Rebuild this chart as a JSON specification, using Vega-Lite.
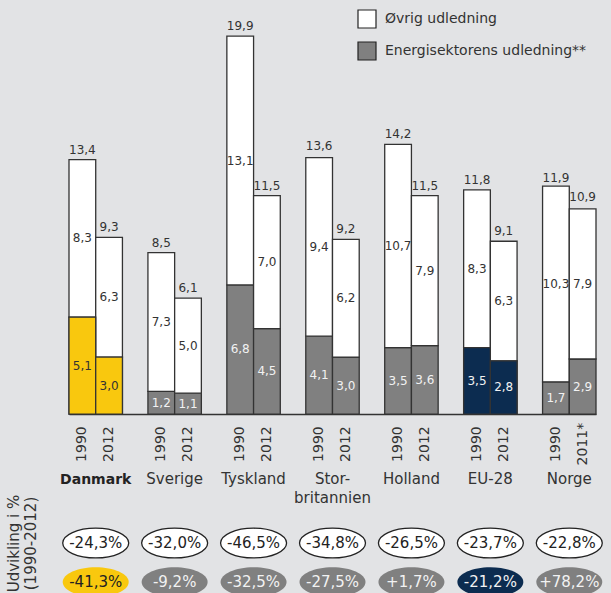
{
  "$schema": "https://vega.github.io/schema/vega-lite/v6.json",
  "width": 611,
  "height": 593,
  "autosize": {"type": "none"},
  "padding": 0,
  "background": "#e2e3e5",
  "config": {
    "view": {"stroke": null},
    "font": "DejaVu Sans",
    "text": {"font": "DejaVu Sans"},
    "locale": {"number": {"decimal": ",", "thousands": ".", "grouping": [3], "currency": ["", " kr."], "minus": "-", "percent": "%"}}
  },
  "datasets": {
    "udledning": [
      {"land": "Danmark", "periode": "start", "segment": "Energisektorens udledning**", "kategori": "Energi Danmark", "vaerdi": 5.1},
      {"land": "Danmark", "periode": "start", "segment": "Øvrig udledning", "kategori": "Øvrig udledning", "vaerdi": 8.3},
      {"land": "Danmark", "periode": "slut", "segment": "Energisektorens udledning**", "kategori": "Energi Danmark", "vaerdi": 3.0},
      {"land": "Danmark", "periode": "slut", "segment": "Øvrig udledning", "kategori": "Øvrig udledning", "vaerdi": 6.3},
      {"land": "Sverige", "periode": "start", "segment": "Energisektorens udledning**", "kategori": "Energi øvrige", "vaerdi": 1.2},
      {"land": "Sverige", "periode": "start", "segment": "Øvrig udledning", "kategori": "Øvrig udledning", "vaerdi": 7.3},
      {"land": "Sverige", "periode": "slut", "segment": "Energisektorens udledning**", "kategori": "Energi øvrige", "vaerdi": 1.1},
      {"land": "Sverige", "periode": "slut", "segment": "Øvrig udledning", "kategori": "Øvrig udledning", "vaerdi": 5.0},
      {"land": "Tyskland", "periode": "start", "segment": "Energisektorens udledning**", "kategori": "Energi øvrige", "vaerdi": 6.8},
      {"land": "Tyskland", "periode": "start", "segment": "Øvrig udledning", "kategori": "Øvrig udledning", "vaerdi": 13.1},
      {"land": "Tyskland", "periode": "slut", "segment": "Energisektorens udledning**", "kategori": "Energi øvrige", "vaerdi": 4.5},
      {"land": "Tyskland", "periode": "slut", "segment": "Øvrig udledning", "kategori": "Øvrig udledning", "vaerdi": 7.0},
      {"land": "Storbritannien", "periode": "start", "segment": "Energisektorens udledning**", "kategori": "Energi øvrige", "vaerdi": 4.1},
      {"land": "Storbritannien", "periode": "start", "segment": "Øvrig udledning", "kategori": "Øvrig udledning", "vaerdi": 9.4},
      {"land": "Storbritannien", "periode": "slut", "segment": "Energisektorens udledning**", "kategori": "Energi øvrige", "vaerdi": 3.0},
      {"land": "Storbritannien", "periode": "slut", "segment": "Øvrig udledning", "kategori": "Øvrig udledning", "vaerdi": 6.2},
      {"land": "Holland", "periode": "start", "segment": "Energisektorens udledning**", "kategori": "Energi øvrige", "vaerdi": 3.5},
      {"land": "Holland", "periode": "start", "segment": "Øvrig udledning", "kategori": "Øvrig udledning", "vaerdi": 10.7},
      {"land": "Holland", "periode": "slut", "segment": "Energisektorens udledning**", "kategori": "Energi øvrige", "vaerdi": 3.6},
      {"land": "Holland", "periode": "slut", "segment": "Øvrig udledning", "kategori": "Øvrig udledning", "vaerdi": 7.9},
      {"land": "EU-28", "periode": "start", "segment": "Energisektorens udledning**", "kategori": "Energi EU-28", "vaerdi": 3.5},
      {"land": "EU-28", "periode": "start", "segment": "Øvrig udledning", "kategori": "Øvrig udledning", "vaerdi": 8.3},
      {"land": "EU-28", "periode": "slut", "segment": "Energisektorens udledning**", "kategori": "Energi EU-28", "vaerdi": 2.8},
      {"land": "EU-28", "periode": "slut", "segment": "Øvrig udledning", "kategori": "Øvrig udledning", "vaerdi": 6.3},
      {"land": "Norge", "periode": "start", "segment": "Energisektorens udledning**", "kategori": "Energi øvrige", "vaerdi": 1.7},
      {"land": "Norge", "periode": "start", "segment": "Øvrig udledning", "kategori": "Øvrig udledning", "vaerdi": 10.3},
      {"land": "Norge", "periode": "slut", "segment": "Energisektorens udledning**", "kategori": "Energi øvrige", "vaerdi": 2.9},
      {"land": "Norge", "periode": "slut", "segment": "Øvrig udledning", "kategori": "Øvrig udledning", "vaerdi": 7.9}
    ],
    "totaler": [
      {"land": "Danmark", "periode": "start", "aar": "1990", "total": 13.4},
      {"land": "Danmark", "periode": "slut", "aar": "2012", "total": 9.3},
      {"land": "Sverige", "periode": "start", "aar": "1990", "total": 8.5},
      {"land": "Sverige", "periode": "slut", "aar": "2012", "total": 6.1},
      {"land": "Tyskland", "periode": "start", "aar": "1990", "total": 19.9},
      {"land": "Tyskland", "periode": "slut", "aar": "2012", "total": 11.5},
      {"land": "Storbritannien", "periode": "start", "aar": "1990", "total": 13.6},
      {"land": "Storbritannien", "periode": "slut", "aar": "2012", "total": 9.2},
      {"land": "Holland", "periode": "start", "aar": "1990", "total": 14.2},
      {"land": "Holland", "periode": "slut", "aar": "2012", "total": 11.5},
      {"land": "EU-28", "periode": "start", "aar": "1990", "total": 11.8},
      {"land": "EU-28", "periode": "slut", "aar": "2012", "total": 9.1},
      {"land": "Norge", "periode": "start", "aar": "1990", "total": 11.9},
      {"land": "Norge", "periode": "slut", "aar": "2011*", "total": 10.9}
    ],
    "lande": [
      {"land": "Danmark", "navn": "Danmark"},
      {"land": "Sverige", "navn": "Sverige"},
      {"land": "Tyskland", "navn": "Tyskland"},
      {"land": "Storbritannien", "navn": "Stor-\nbritannien"},
      {"land": "Holland", "navn": "Holland"},
      {"land": "EU-28", "navn": "EU-28"},
      {"land": "Norge", "navn": "Norge"}
    ],
    "udvikling": [
      {"land": "Danmark", "maal": "Samlet", "kategori": "Øvrig udledning", "aendring": -0.243},
      {"land": "Sverige", "maal": "Samlet", "kategori": "Øvrig udledning", "aendring": -0.320},
      {"land": "Tyskland", "maal": "Samlet", "kategori": "Øvrig udledning", "aendring": -0.465},
      {"land": "Storbritannien", "maal": "Samlet", "kategori": "Øvrig udledning", "aendring": -0.348},
      {"land": "Holland", "maal": "Samlet", "kategori": "Øvrig udledning", "aendring": -0.265},
      {"land": "EU-28", "maal": "Samlet", "kategori": "Øvrig udledning", "aendring": -0.237},
      {"land": "Norge", "maal": "Samlet", "kategori": "Øvrig udledning", "aendring": -0.228},
      {"land": "Danmark", "maal": "Energi", "kategori": "Energi Danmark", "aendring": -0.413},
      {"land": "Sverige", "maal": "Energi", "kategori": "Energi øvrige", "aendring": -0.092},
      {"land": "Tyskland", "maal": "Energi", "kategori": "Energi øvrige", "aendring": -0.325},
      {"land": "Storbritannien", "maal": "Energi", "kategori": "Energi øvrige", "aendring": -0.275},
      {"land": "Holland", "maal": "Energi", "kategori": "Energi øvrige", "aendring": 0.017},
      {"land": "EU-28", "maal": "Energi", "kategori": "Energi EU-28", "aendring": -0.212},
      {"land": "Norge", "maal": "Energi", "kategori": "Energi øvrige", "aendring": 0.782}
    ]
  },
  "encoding": {
    "x": {
      "field": "land",
      "type": "nominal",
      "scale": {"domain": ["Danmark", "Sverige", "Tyskland", "Storbritannien", "Holland", "EU-28", "Norge"], "range": [69, 596], "paddingInner": 0.323, "paddingOuter": 0},
      "axis": {"orient": "bottom", "offset": -179, "labels": false, "ticks": false, "grid": false, "domainColor": "#333333", "domainWidth": 1.5,
               "title": ["Udvikling i %", "(1990-2012)"], "titleAngle": 270, "titleX": 6, "titleY": 129, "titleAlign": "center", "titleBaseline": "top",
               "titleFontSize": 15, "titleFontWeight": "normal", "titleColor": "#333333", "titleFont": "DejaVu Sans", "titleLineHeight": 17}
    }
  },
  "layer": [
    {
      "data": {"name": "udledning"},
      "mark": {"type": "bar", "stroke": "#333333", "strokeWidth": 1.3},
      "encoding": {
        "xOffset": {"field": "periode", "type": "nominal", "sort": ["start", "slut"]},
        "y": {
          "field": "vaerdi", "type": "quantitative", "stack": "zero",
          "scale": {"domain": [-9.42, 21.8], "nice": false, "zero": false},
          "axis": null
        },
        "order": {"field": "segment", "sort": "ascending"},
        "color": {
          "field": "segment", "type": "nominal",
          "scale": {"domain": ["Øvrig udledning", "Energisektorens udledning**"], "range": ["#ffffff", "#808080"]},
          "legend": {
            "title": null, "orient": "none", "legendX": 357, "legendY": 9, "padding": 0,
            "symbolType": "square", "symbolSize": 324, "symbolStrokeColor": "#222222", "symbolStrokeWidth": 1.2, "symbolOpacity": 1,
            "labelFontSize": 14, "labelFont": "DejaVu Sans", "labelColor": "#333333", "labelOffset": 8, "rowPadding": 8, "labelLimit": 400
          }
        }
      }
    },
    {
      "data": {"name": "udledning"},
      "transform": [{"filter": "datum.kategori === 'Energi Danmark' || datum.kategori === 'Energi EU-28'"}],
      "mark": {"type": "bar", "stroke": "#333333", "strokeWidth": 1.3},
      "encoding": {
        "xOffset": {"field": "periode", "type": "nominal", "sort": ["start", "slut"]},
        "y": {"field": "vaerdi", "type": "quantitative", "stack": "zero", "axis": null},
        "fill": {"field": "kategori", "type": "nominal", "legend": null,
                 "scale": {"domain": ["Øvrig udledning", "Energi øvrige", "Energi Danmark", "Energi EU-28"], "range": ["#ffffff", "#808080", "#f9c80e", "#0c2c50"]}}
      }
    },
    {
      "data": {"name": "udledning"},
      "transform": [
        {"stack": "vaerdi", "groupby": ["land", "periode"], "sort": [{"field": "segment", "order": "ascending"}], "as": ["v0", "v1"]},
        {"calculate": "(datum.v0 + datum.v1) / 2", "as": "midt"}
      ],
      "mark": {"type": "text", "fontSize": 12, "baseline": "middle", "align": "center"},
      "encoding": {
        "xOffset": {"field": "periode", "type": "nominal", "sort": ["start", "slut"]},
        "y": {"field": "midt", "type": "quantitative", "axis": null},
        "text": {"field": "vaerdi", "type": "quantitative", "format": ".1f"},
        "color": {"condition": {"test": "datum.kategori === 'Energi øvrige' || datum.kategori === 'Energi EU-28'", "value": "#f2f2f2"}, "value": "#333333"}
      }
    },
    {
      "data": {"name": "totaler"},
      "mark": {"type": "text", "fontSize": 12, "baseline": "middle", "align": "center", "dy": -10, "color": "#333333"},
      "encoding": {
        "xOffset": {"field": "periode", "type": "nominal", "sort": ["start", "slut"]},
        "y": {"field": "total", "type": "quantitative", "axis": null},
        "text": {"field": "total", "type": "quantitative", "format": ".1f"}
      }
    },
    {
      "data": {"name": "totaler"},
      "mark": {"type": "text", "fontSize": 14, "baseline": "middle", "align": "center", "angle": 270, "color": "#333333"},
      "encoding": {
        "xOffset": {"field": "periode", "type": "nominal", "sort": ["start", "slut"]},
        "y": {"datum": -1.58, "type": "quantitative", "axis": null},
        "text": {"field": "aar", "type": "nominal"}
      }
    },
    {
      "data": {"name": "lande"},
      "transform": [{"filter": "datum.land !== 'Danmark'"}],
      "mark": {"type": "text", "fontSize": 15, "baseline": "alphabetic", "align": "center", "lineBreak": "\n", "lineHeight": 19, "color": "#333333"},
      "encoding": {
        "y": {"datum": -3.68, "type": "quantitative", "axis": null},
        "text": {"field": "navn", "type": "nominal"}
      }
    },
    {
      "data": {"name": "lande"},
      "transform": [{"filter": "datum.land === 'Danmark'"}],
      "mark": {"type": "text", "fontSize": 14, "fontWeight": "bold", "baseline": "alphabetic", "align": "center", "color": "#222222"},
      "encoding": {
        "y": {"datum": -3.68, "type": "quantitative", "axis": null},
        "text": {"field": "navn", "type": "nominal"}
      }
    },
    {
      "data": {"name": "udvikling"},
      "transform": [{"filter": "datum.maal === 'Samlet'"}],
      "mark": {"type": "point", "shape": "M-1,0A1,0.45,0,1,1,1,0A1,0.45,0,1,1,-1,0Z", "size": 4356, "filled": true, "opacity": 1, "stroke": "#222222", "strokeWidth": 1.3},
      "encoding": {
        "y": {"datum": -6.79, "type": "quantitative", "axis": null},
        "fill": {"field": "kategori", "type": "nominal", "legend": null}
      }
    },
    {
      "data": {"name": "udvikling"},
      "transform": [{"filter": "datum.maal === 'Energi'"}],
      "mark": {"type": "point", "shape": "M-1,0A1,0.45,0,1,1,1,0A1,0.45,0,1,1,-1,0Z", "size": 4356, "filled": true, "opacity": 1, "strokeWidth": 0},
      "encoding": {
        "y": {"datum": -8.84, "type": "quantitative", "axis": null},
        "fill": {"field": "kategori", "type": "nominal", "legend": null}
      }
    },
    {
      "data": {"name": "udvikling"},
      "transform": [{"filter": "datum.maal === 'Samlet'"}],
      "mark": {"type": "text", "fontSize": 15, "baseline": "middle", "align": "center", "color": "#222222"},
      "encoding": {
        "y": {"datum": -6.79, "type": "quantitative", "axis": null},
        "text": {"field": "aendring", "type": "quantitative", "format": "+.1%"}
      }
    },
    {
      "data": {"name": "udvikling"},
      "transform": [{"filter": "datum.maal === 'Energi'"}],
      "mark": {"type": "text", "fontSize": 15, "baseline": "middle", "align": "center"},
      "encoding": {
        "y": {"datum": -8.84, "type": "quantitative", "axis": null},
        "text": {"field": "aendring", "type": "quantitative", "format": "+.1%"},
        "color": {"condition": {"test": "datum.kategori === 'Energi Danmark'", "value": "#222222"}, "value": "#f2f2f2"}
      }
    }
  ]
}
